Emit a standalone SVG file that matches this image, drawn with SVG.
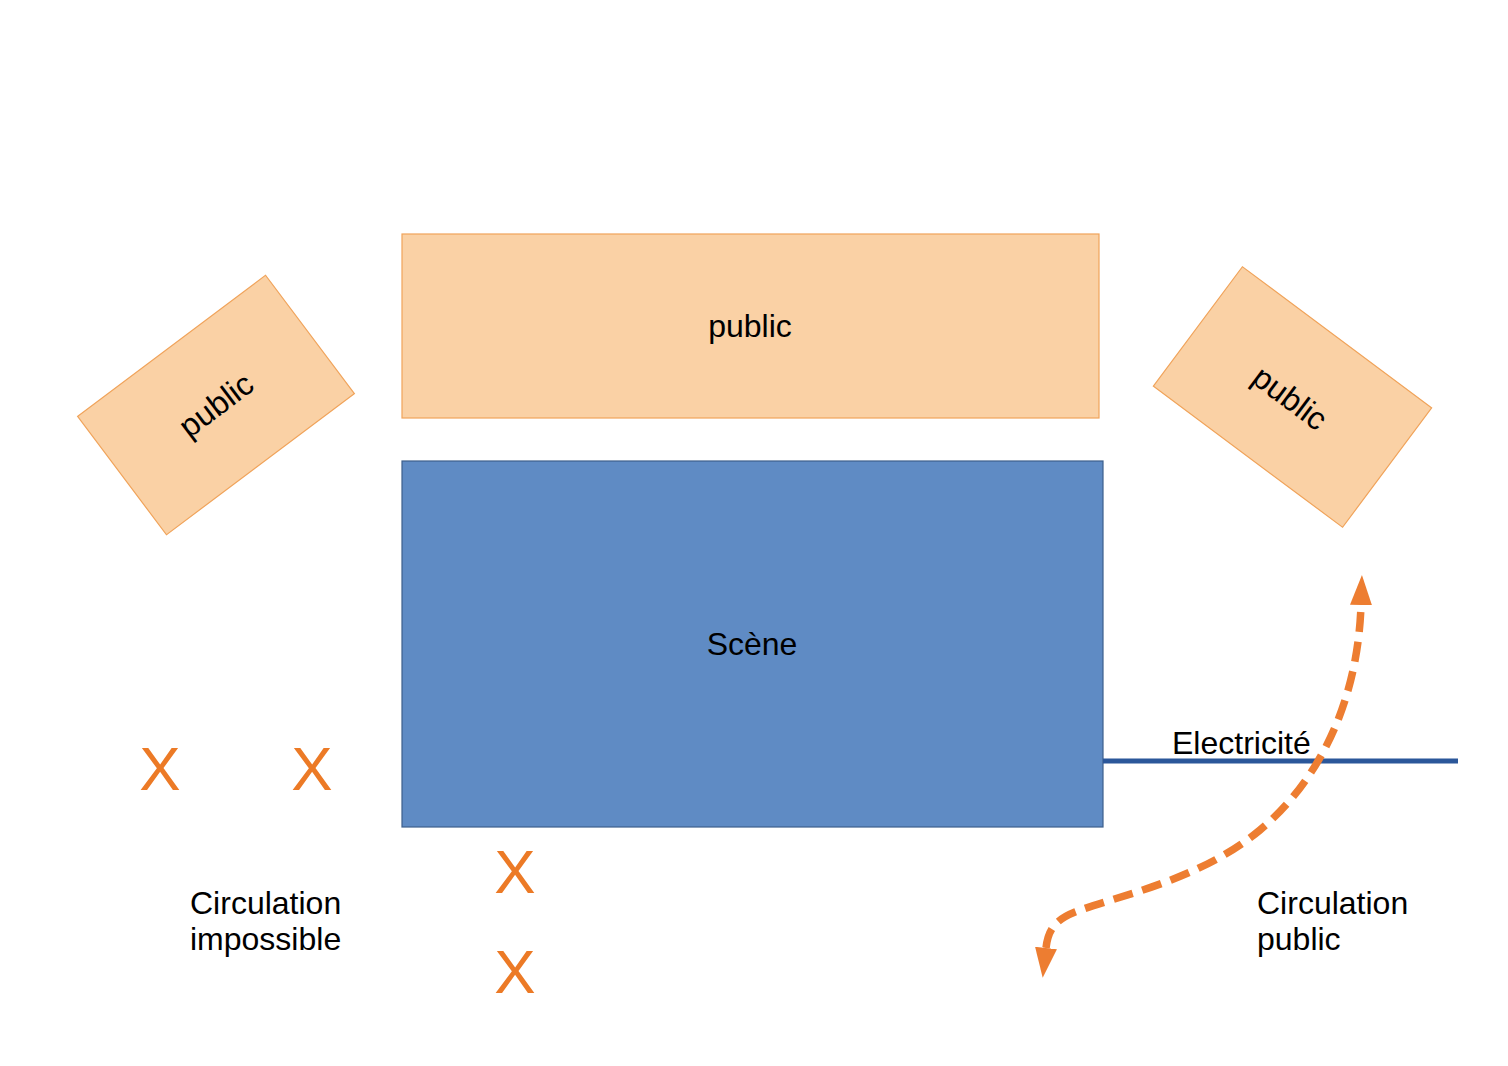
<svg xmlns="http://www.w3.org/2000/svg" width="1508" height="1066" viewBox="0 0 1508 1066">
<defs>
<style>
.pub{fill:#fad1a5;stroke:#f0a35a;stroke-width:1.2}
.scene{fill:#5f8bc4;stroke:#3c5f8c;stroke-width:1.2}
text{font-family:"Liberation Sans",Arial,sans-serif;fill:#000}
.lbl{font-size:32px}
.mid{text-anchor:middle}
.x{font-size:62px;fill:#ec7a26;text-anchor:middle}
</style>
<marker id="ah" viewBox="0 0 30 22" refX="0" refY="11" markerWidth="30" markerHeight="22" orient="auto-start-reverse" markerUnits="userSpaceOnUse">
<path d="M0,0 L30,11 L0,22 Z" fill="#ed7d31"/>
</marker>
</defs>
<rect width="1508" height="1066" fill="#fff"/>
<g id="public-left">
<rect class="pub" x="-117.5" y="-74" width="235" height="148" transform="translate(216,405) rotate(-36.9)"/>
<text class="lbl mid" transform="translate(216,405) rotate(-36.9)" y="11">public</text>
</g>
<g id="public-top">
<rect class="pub" x="402" y="234" width="697" height="184"/>
<text class="lbl mid" x="750" y="337">public</text>
</g>
<g id="public-right">
<rect class="pub" x="-118" y="-74.5" width="236" height="149" transform="translate(1292.5,397) rotate(36.7)"/>
<text class="lbl mid" transform="translate(1290,398) rotate(36.7)" y="11">public</text>
</g>
<g id="scene">
<rect class="scene" x="402" y="461" width="701" height="366"/>
<text class="lbl mid" x="752" y="655">Scène</text>
</g>
<g id="connectors">
<line id="electricite-line" x1="1103" y1="761" x2="1458" y2="761" stroke="#2b579a" stroke-width="5"/>
<path id="circulation-path" d="M1046,948 C1048,930 1055,920 1075,912 C1120,895 1200,880 1260,830 C1320,780 1358,700 1361,605" fill="none" stroke="#ed7d31" stroke-width="7.5" stroke-dasharray="20,10" marker-start="url(#ah)" marker-end="url(#ah)"/>
</g>
<g id="labels">
<text class="lbl" x="1172" y="754">Electricité</text>
<text class="lbl" x="190" y="914">Circulation</text>
<text class="lbl" x="190" y="950">impossible</text>
<text class="lbl" x="1257" y="914">Circulation</text>
<text class="lbl" x="1257" y="950">public</text>
</g>
<g id="crosses">
<text class="x" x="160" y="790">X</text>
<text class="x" x="312" y="790">X</text>
<text class="x" x="515" y="893">X</text>
<text class="x" x="515" y="993">X</text>
</g>
</svg>
